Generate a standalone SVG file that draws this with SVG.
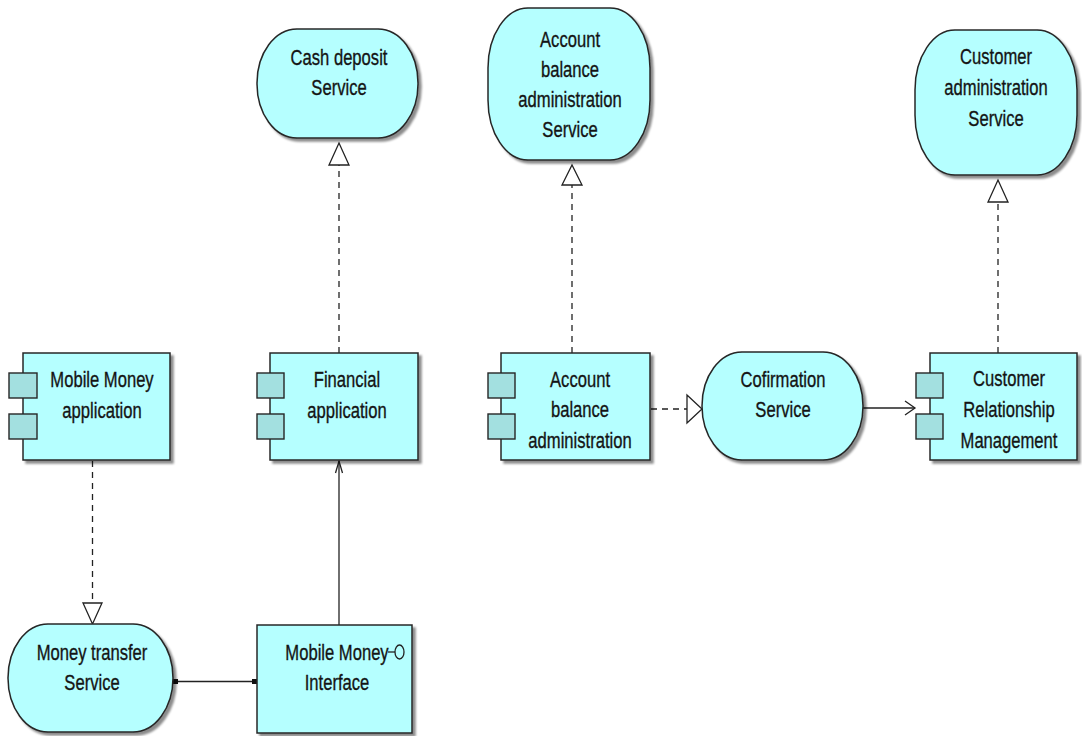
<svg xmlns="http://www.w3.org/2000/svg" width="1082" height="736" viewBox="0 0 1082 736">
<style>
.box{fill:#b5ffff;stroke:#262626;stroke-width:1.5;filter:url(#sh)}
.tab{fill:#a3e0e0;stroke:#262626;stroke-width:1.4}
.t{font-family:"Liberation Sans",Arial,sans-serif;font-size:16.6px;fill:#141414;stroke:#141414;stroke-width:0.25;text-anchor:middle}
.dash{fill:none;stroke:#222;stroke-width:1.3;stroke-dasharray:6,5}
.solid{fill:none;stroke:#222;stroke-width:1.3}
.tri{fill:#fff;stroke:#222;stroke-width:1.3}
</style>
<defs>
<filter id="sh" x="-10%" y="-10%" width="130%" height="130%">
<feDropShadow dx="3" dy="3" stdDeviation="1.2" flood-color="#000" flood-opacity="0.45"/>
</filter>
</defs>
<rect width="1082" height="736" fill="#fff"/>

<g id="connectors">
<!-- Mobile Money application -> Money transfer Service (realization) -->
<line class="dash" x1="92.5" y1="461" x2="92.5" y2="603"/>
<polygon class="tri" points="83,603 102,603 92.5,624"/>
<!-- Financial application -> Cash deposit Service -->
<line class="dash" x1="339" y1="353" x2="339" y2="165"/>
<polygon class="tri" points="329,165 349,165 339,143"/>
<!-- Account balance administration -> Service -->
<line class="dash" x1="572" y1="353" x2="572" y2="185"/>
<polygon class="tri" points="562,185 582,185 572,165"/>
<!-- Customer Relationship Management -> Customer administration Service -->
<line class="dash" x1="998" y1="353" x2="998" y2="202"/>
<polygon class="tri" points="988,202 1008,202 998,180"/>
<!-- Account balance administration -> Cofirmation Service -->
<line class="dash" x1="651" y1="409" x2="687" y2="409"/>
<polygon class="tri" points="687,395 687,423 702,409"/>
<!-- Cofirmation Service -> Customer Relationship Management -->
<line class="solid" x1="863" y1="408" x2="915" y2="408"/>
<polyline class="solid" points="905,401 915,408 905,415"/>
<!-- Mobile Money Interface -> Financial application -->
<line class="solid" x1="339" y1="625" x2="339" y2="461"/>
<polyline class="solid" points="335.5,473 339,461 342.5,473"/>
<!-- Money transfer Service - Mobile Money Interface -->
<line class="solid" x1="175" y1="681.5" x2="256" y2="681.5" stroke-width="1.6"/>
<rect x="173" y="679" width="5" height="5" fill="#111"/>
<rect x="252" y="679" width="5" height="5" fill="#111"/>
</g>

<g id="mobile-money-application">
<rect class="box" x="23" y="353" width="147" height="107"/>
<rect class="tab" x="9" y="373" width="28" height="25"/>
<rect class="tab" x="9" y="414" width="28" height="25"/>
<text class="t" transform="translate(102,387) scale(1,1.38)"><tspan x="0" y="0">Mobile Money</tspan><tspan x="0" dy="22.3">application</tspan></text>
</g>

<g id="financial-application">
<rect class="box" x="270" y="353" width="148" height="107"/>
<rect class="tab" x="257" y="373" width="27" height="25"/>
<rect class="tab" x="257" y="414" width="27" height="25"/>
<text class="t" transform="translate(347,387) scale(1,1.38)"><tspan x="0" y="0">Financial</tspan><tspan x="0" dy="22.3">application</tspan></text>
</g>

<g id="account-balance-administration">
<rect class="box" x="501" y="353" width="149" height="107"/>
<rect class="tab" x="488" y="373" width="27" height="25"/>
<rect class="tab" x="488" y="414" width="27" height="25"/>
<text class="t" transform="translate(580,387) scale(1,1.38)"><tspan x="0" y="0">Account</tspan><tspan x="0" dy="22.1">balance</tspan><tspan x="0" dy="22.1">administration</tspan></text>
</g>

<g id="cofirmation-service">
<rect class="box" x="702" y="352" width="161" height="108" rx="40" ry="54"/>
<text class="t" transform="translate(783,387) scale(1,1.38)"><tspan x="0" y="0">Cofirmation</tspan><tspan x="0" dy="21.8">Service</tspan></text>
</g>

<g id="customer-relationship-management">
<rect class="box" x="930" y="353" width="147" height="107"/>
<rect class="tab" x="916" y="373" width="27" height="25"/>
<rect class="tab" x="916" y="414" width="27" height="25"/>
<text class="t" transform="translate(1009,386) scale(1,1.38)"><tspan x="0" y="0">Customer</tspan><tspan x="0" dy="22.5">Relationship</tspan><tspan x="0" dy="22.5">Management</tspan></text>
</g>

<g id="cash-deposit-service">
<rect class="box" x="257" y="29" width="161" height="109" rx="40" ry="54"/>
<text class="t" transform="translate(339,65) scale(1,1.38)"><tspan x="0" y="0">Cash deposit</tspan><tspan x="0" dy="21.8">Service</tspan></text>
</g>

<g id="account-balance-administration-service">
<rect class="box" x="488" y="8" width="162" height="152" rx="40" ry="60"/>
<text class="t" transform="translate(570,47) scale(1,1.38)"><tspan x="0" y="0">Account</tspan><tspan x="0" dy="21.8">balance</tspan><tspan x="0" dy="21.8">administration</tspan><tspan x="0" dy="21.8">Service</tspan></text>
</g>

<g id="customer-administration-service">
<rect class="box" x="915" y="30" width="162" height="145" rx="40" ry="60"/>
<text class="t" transform="translate(996,64) scale(1,1.38)"><tspan x="0" y="0">Customer</tspan><tspan x="0" dy="22.3">administration</tspan><tspan x="0" dy="22.3">Service</tspan></text>
</g>

<g id="money-transfer-service">
<rect class="box" x="8" y="624" width="165" height="108" rx="40" ry="54"/>
<text class="t" transform="translate(92,660) scale(1,1.38)"><tspan x="0" y="0">Money transfer</tspan><tspan x="0" dy="21.8">Service</tspan></text>
</g>

<g id="mobile-money-interface">
<rect class="box" x="257" y="625" width="155" height="108"/>
<line x1="388" y1="652" x2="395" y2="652" stroke="#222" stroke-width="1.3"/>
<ellipse cx="399.5" cy="652" rx="4.5" ry="7" fill="none" stroke="#222" stroke-width="1.3"/>
<text class="t" transform="translate(337,660) scale(1,1.38)"><tspan x="0" y="0">Mobile Money</tspan><tspan x="0" dy="21.8">Interface</tspan></text>
</g>
</svg>
